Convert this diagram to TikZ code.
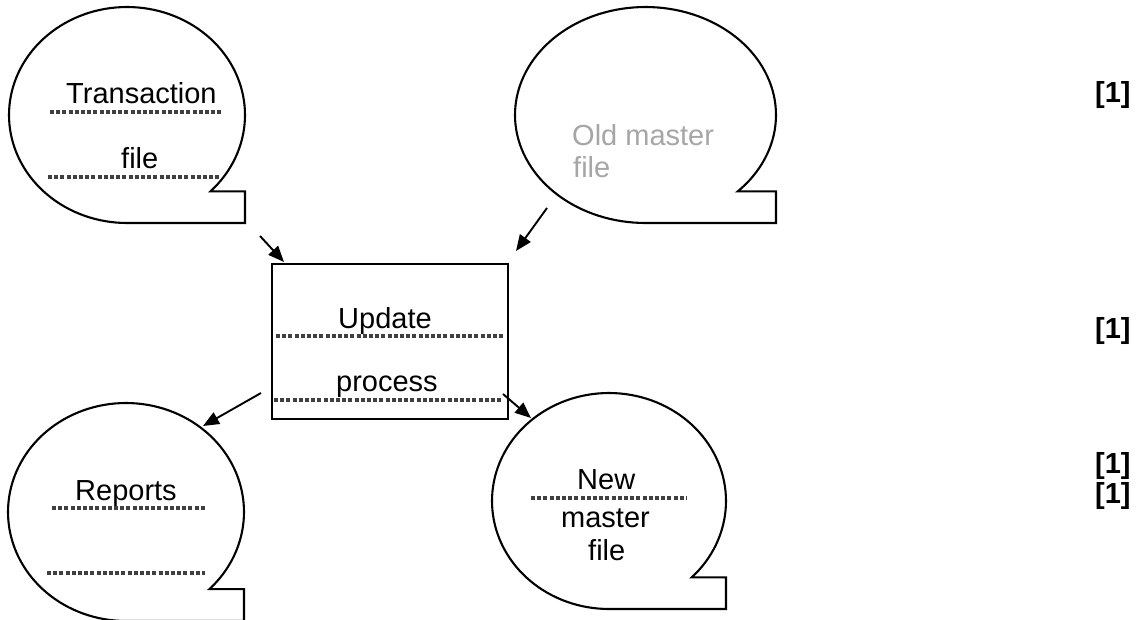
\documentclass[tikz,border=0pt]{standalone}
\usepackage{fontspec}
\setmainfont{Liberation Sans}
\usetikzlibrary{arrows.meta}
\newcommand{\mybubble}[5]{% name, left, top, right, bottom (pixel coords)
  \pgfmathsetmacro{\bhc}{(#2+#4)/2}%
  \pgfmathsetmacro{\bvc}{(#3+#5)/2}%
  \pgfmathsetmacro{\brx}{(#4-#2)/2}%
  \pgfmathsetmacro{\bry}{(#5-#3)/2}%
  \pgfmathsetmacro{\bny}{\bvc+0.7071*\bry}%
  \draw[bubble] plot[domain=90:405,samples=120] ({\bhc+\brx*cos(\x)},{\bvc+\bry*sin(\x)})
     -- (#4,\bny) -- (#4,#5) -- cycle;
  \coordinate (#1) at (\bhc,\bvc);%
}
\begin{document}
\begin{tikzpicture}[x=1pt,y=-1pt,
  bubble/.style={line width=2.1pt, line join=miter},
  procbox/.style={draw, line width=2.2pt, minimum width=236pt, minimum height=155pt, inner sep=0pt, anchor=north west},
  txt/.style={font=\fontsize{29}{34}\selectfont, anchor=base west, inner sep=0pt},
  mark1/.style={font=\fontsize{29}{34}\selectfont\bfseries, anchor=base west, inner sep=0pt},
  dotline/.style={line width=3.4pt, black!75, dash pattern=on 4pt off 2.2pt},
  arr/.style={line width=1.9pt, -{Triangle[length=16pt,width=13pt]}}]
\useasboundingbox (0,0) rectangle (1144,619);
\fill[white] (0,0) rectangle (1144,619);

% bubbles
\mybubble{trans}{9}{7}{245}{223}
\mybubble{oldm}{515}{7}{776}{223}
\mybubble{reps}{8}{403}{244}{621}
\mybubble{newm}{492}{393}{726}{609}

% process box
\node[procbox] (upd) at (271,263) {};

% texts
\node[txt] (t1) at (66,103) {Transaction};
\node[txt] (t2) at (121,168) {file};
\node[txt, text=black!35] (o1) at (572,145) {Old master};
\node[txt, text=black!35] (o2) at (573,177) {file};
\node[txt] (u1) at (338,328) {Update};
\node[txt] (u2) at (336,391) {process};
\node[txt] (r1) at (75,500) {Reports};
\node[txt] (n1) at (577,489) {New};
\node[txt] (n2) at (561,527) {master};
\node[txt] (n3) at (588,560) {file};

% dotted answer lines
\coordinate (d1a) at (50,112);  \coordinate (d1b) at (223,112);
\coordinate (d2a) at (48,177);  \coordinate (d2b) at (221,177);
\coordinate (d3a) at (276,336); \coordinate (d3b) at (505,336);
\coordinate (d4a) at (274,400); \coordinate (d4b) at (503,400);
\coordinate (d5a) at (52,508);  \coordinate (d5b) at (205,508);
\coordinate (d6a) at (47,573);  \coordinate (d6b) at (205,573);
\coordinate (d7a) at (531,498); \coordinate (d7b) at (687,498);
\foreach \p in {1,...,7} {\draw[dotline] (d\p a) -- (d\p b);}

% arrows
\coordinate (a1s) at (260,236); \coordinate (a1e) at (284,262);
\coordinate (a2s) at (547,208); \coordinate (a2e) at (516,251);
\coordinate (a3s) at (261,393); \coordinate (a3e) at (203,426);
\coordinate (a4s) at (503,394); \coordinate (a4e) at (531,418);
\draw[arr] (a1s) -- (a1e);
\draw[arr] (a2s) -- (a2e);
\draw[arr] (a3s) -- (a3e);
\draw[arr] (a4s) -- (a4e);

% marks
\node[mark1] (m1) at (1095,102) {[1]};
\node[mark1] (m2) at (1095,338) {[1]};
\node[mark1] (m3) at (1095,473) {[1]};
\node[mark1] (m4) at (1095,503) {[1]};
\end{tikzpicture}
\end{document}
